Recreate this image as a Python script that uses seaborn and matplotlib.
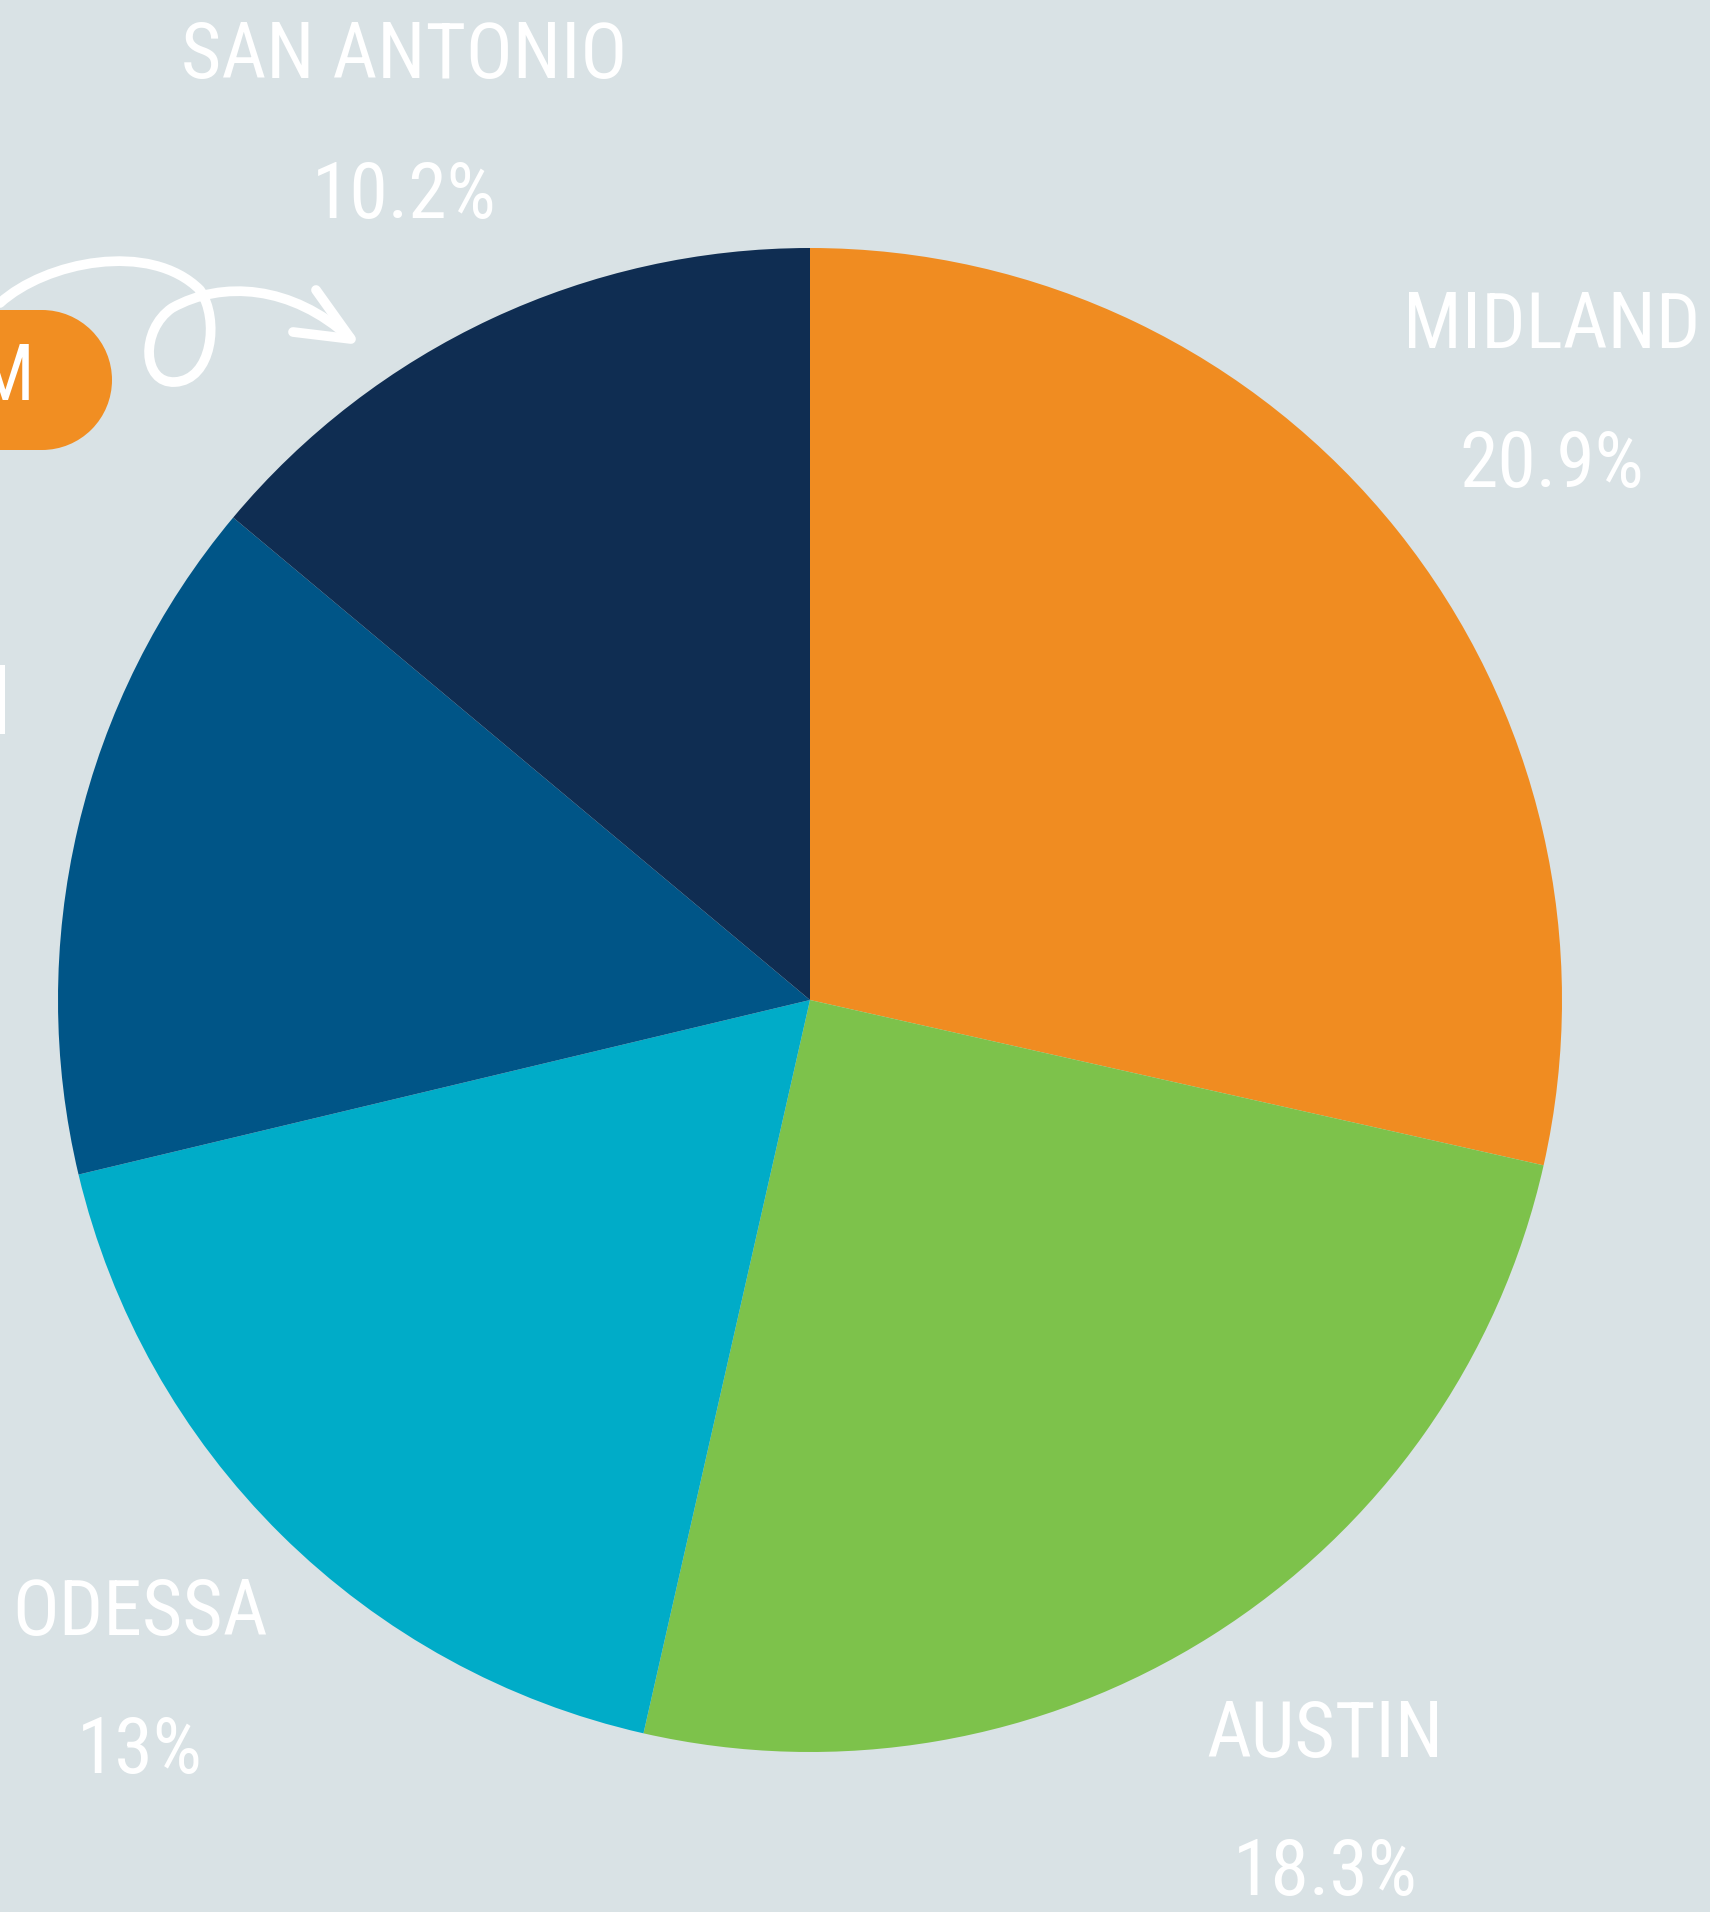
import seaborn as sns
import numpy as np
import matplotlib.pyplot as plt
import matplotlib.font_manager as fm
from matplotlib.path import Path
from matplotlib.patches import PathPatch, Circle, Rectangle

# slice sizes as drawn (share of the circle) and the printed labels
cities = ['MIDLAND', 'AUSTIN', 'ODESSA', '', 'SAN ANTONIO']
slice_share = [28.5, 25.0, 17.7, 14.8, 13.9]
pct_labels = ['20.9%', '18.3%', '13%', '', '10.2%']
slice_colors = ['#F08C21', '#7DC24B', '#00ACC8', '#005587', '#0F2D52']
bg = '#D9E2E5'
pill_color = '#F18E22'

sns.set_style("white")

# pick the narrowest installed face we can find
names = {f.name for f in fm.fontManager.ttflist}
font = 'DejaVu Sans'
for cand in ['Roboto Condensed', 'Liberation Sans Narrow', 'Open Sans Condensed', 'Noto Sans Condensed']:
    if cand in names:
        font = cand
        break
plt.rcParams['font.family'] = [font, 'DejaVu Sans']

W, H = 1710, 1912
fig = plt.figure(figsize=(W / 100, H / 100), dpi=100, facecolor=bg)
ax = fig.add_axes([0, 0, 1, 1])
ax.set_facecolor(bg)

# pie (pixel coords, y measured from the bottom)
cx, cy, r = 810, H - 1000, 752
ax.pie(slice_share, colors=sns.color_palette(slice_colors), startangle=90, counterclock=False,
       center=(cx, cy), radius=r, frame=True, wedgeprops={'linewidth': 0, 'antialiased': True})
ax.set_xlim(0, W)
ax.set_ylim(0, H)
ax.set_aspect('equal')
ax.axis('off')

# labels: city name and percentage (centre x, centre y of each line in px from top)
label_pos = {
    'MIDLAND': (1552, 318, 457),
    'AUSTIN': (1325, 1728, 1866),
    'ODESSA': (140, 1605, 1744),
    'SAN ANTONIO': (404, 48, 188),
}
fs = 56
for city, pct in zip(cities, pct_labels):
    if not city:
        continue
    x, y1, y2 = label_pos[city]
    ax.text(x, H - y1, city, color='white', fontsize=fs, ha='center', va='center_baseline')
    ax.text(x, H - y2, pct, color='white', fontsize=fs, ha='center', va='center_baseline')

# cropped orange pill at the left edge (rectangle + round cap)
ax.add_patch(Rectangle((-10, H - 450), 52, 140, facecolor=pill_color, edgecolor='none'))
ax.add_patch(Circle((42, H - 380), 70, facecolor=pill_color, edgecolor='none'))
ax.text(35, H - 370, 'M', color='white', fontsize=fs, ha='right', va='center_baseline')

# thin white bar at the left edge
ax.add_patch(Rectangle((0, H - 734), 5, 69, facecolor='white', edgecolor='none'))

# hand-drawn looping arrow
def pt(x, y):
    return (x, H - y)

verts = [pt(0, 303), pt(45, 262), pt(150, 240), pt(200, 290),
         pt(220, 320), pt(212, 380), pt(175, 382),
         pt(142, 384), pt(140, 330), pt(172, 308),
         pt(222, 280), pt(292, 285), pt(350, 338)]
codes = [Path.MOVETO] + [Path.CURVE4] * 12
ax.add_patch(PathPatch(Path(verts, codes), facecolor='none', edgecolor='white',
                       linewidth=7, capstyle='round', joinstyle='round'))
head = Path([pt(316, 290), pt(351, 339), pt(293, 332)], [Path.MOVETO, Path.LINETO, Path.LINETO])
ax.add_patch(PathPatch(head, facecolor='none', edgecolor='white', linewidth=7,
                       capstyle='round', joinstyle='round'))

fig.savefig('out.png', dpi=100, facecolor=bg)
